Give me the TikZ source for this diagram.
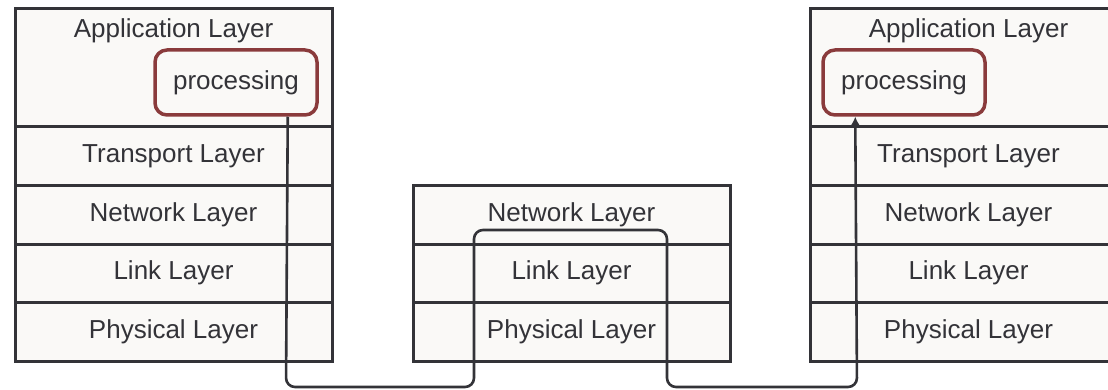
\documentclass[tikz,border=0pt]{standalone}
\usepackage{fontspec}
\setmainfont{Liberation Sans}
\usetikzlibrary{arrows.meta,calc}
\definecolor{ink}{HTML}{333338}
\definecolor{cellfill}{HTML}{FAF9F7}
\definecolor{procred}{HTML}{8A3B3C}
\begin{document}
\begin{tikzpicture}[x=1pt,y=-1pt,
  cell/.style={draw=ink, line width=3pt, fill=cellfill, minimum width=317pt,
    minimum height=58.5pt, inner sep=0pt, outer sep=0pt, anchor=north west,
    text=ink, font=\fontsize{26}{30}\selectfont},
  lbl/.style={text=ink, inner sep=0pt, font=\fontsize{26}{30}\selectfont},
  proc/.style={draw=procred, line width=3.5pt, rounded corners=12pt, fill=cellfill,
    minimum width=162pt, minimum height=65pt, inner sep=0pt, text=ink,
    font=\fontsize{26}{30}\selectfont},
  conn/.style={draw=ink, line width=2.6pt, rounded corners=9pt}]
\fill[white] (0,0) rectangle (1108,390);
\useasboundingbox (0,0) rectangle (1108,390);
\clip (0,0) rectangle (1108,390);
% left stack
\node[cell, minimum height=118.5pt] (L1) at (15,8.5) {};
\node[cell] (L2) at (L1.south west) {Transport Layer};
\node[cell] (L3) at (L2.south west) {Network Layer};
\node[cell] (L4) at (L3.south west) {Link Layer};
\node[cell] (L5) at (L4.south west) {Physical Layer};
\node[lbl] (L1t) at (173.5,31) {Application Layer};
% middle stack
\node[cell] (M3) at (413,185.5) {Network Layer};
\node[cell] (M4) at (M3.south west) {Link Layer};
\node[cell] (M5) at (M4.south west) {Physical Layer};
% right stack
\node[cell, minimum height=118.5pt] (R1) at (810,8.5) {};
\node[cell] (R2) at (R1.south west) {Transport Layer};
\node[cell] (R3) at (R2.south west) {Network Layer};
\node[cell] (R4) at (R3.south west) {Link Layer};
\node[cell] (R5) at (R4.south west) {Physical Layer};
\node[lbl] (R1t) at (968.5,31) {Application Layer};
% processing boxes
\node[proc] (PL) at (236,82.5) {processing};
\node[proc] (PR) at (904,82.5) {processing};
% connector
\coordinate (b1) at (286,387);
\coordinate (b2) at (474,387);
\coordinate (b3) at (474,230);
\coordinate (b4) at (667,230);
\coordinate (b5) at (667,387);
\coordinate (b6) at (857,387);
\draw[conn, -{Latex[length=10pt,width=11pt]}]
  ([xshift=-31pt]PL.south east) -- (b1) -- (b2) -- (b3) -- (b4) -- (b5) -- (b6)
  -- ([xshift=34pt]PR.south west);
\end{tikzpicture}
\end{document}
